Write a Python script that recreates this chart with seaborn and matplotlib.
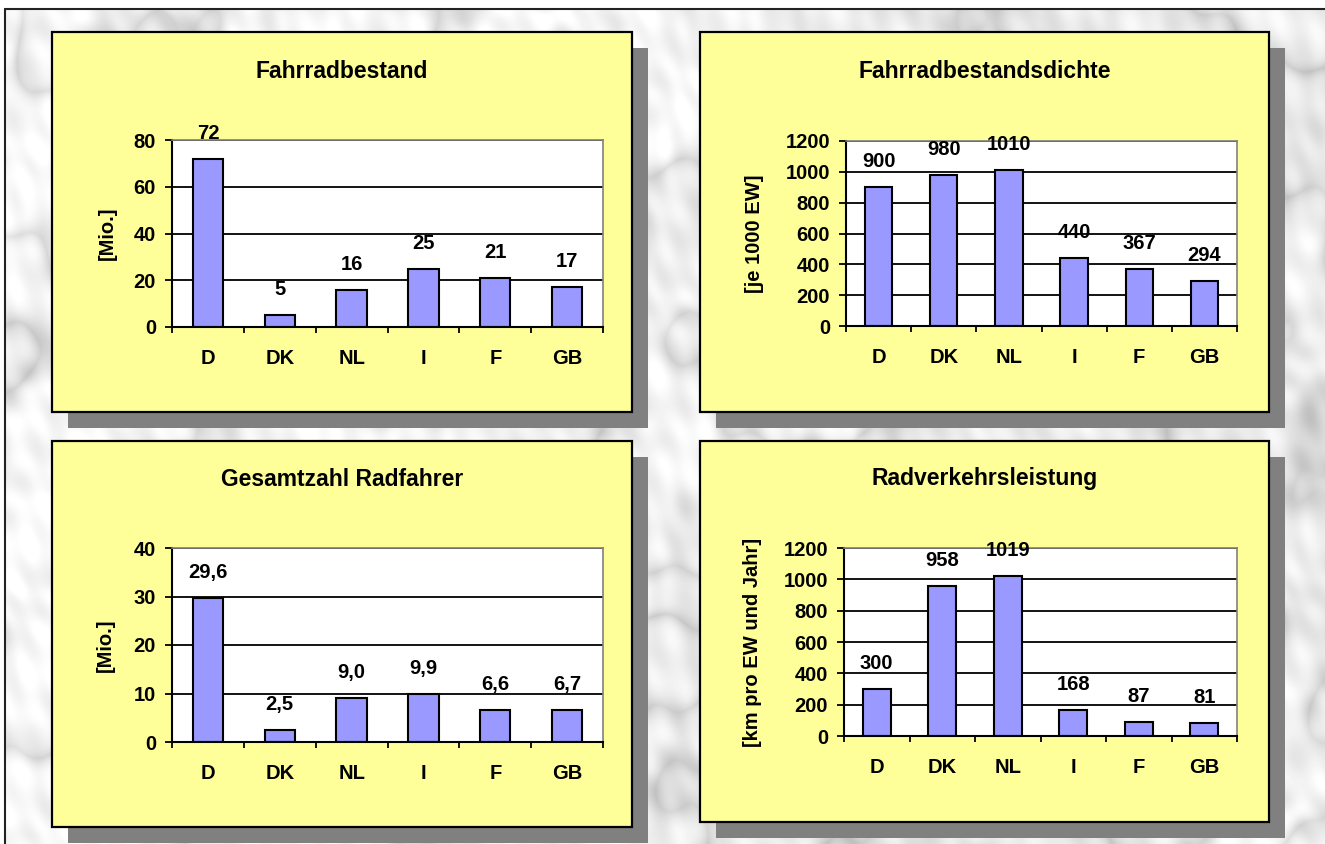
import numpy as np
import matplotlib
matplotlib.use("Agg")
import matplotlib.pyplot as plt
from matplotlib.patches import Rectangle
import seaborn as sns

# ---- data -------------------------------------------------------------
countries = ["D", "DK", "NL", "I", "F", "GB"]

bestand = [72, 5, 16, 25, 21, 17]              # Mio. Fahrräder
dichte = [900, 980, 1010, 440, 367, 294]       # je 1000 EW
radfahrer = [29.6, 2.5, 9.0, 9.9, 6.6, 6.7]    # Mio. Radfahrer
leistung = [300, 958, 1019, 168, 87, 81]       # km pro EW und Jahr

titles = ["Fahrradbestand", "Fahrradbestandsdichte",
          "Gesamtzahl Radfahrer", "Radverkehrsleistung"]
ylabels = ["[Mio.]", "[je 1000 EW]", "[Mio.]", "[km pro EW und Jahr]"]
yticks = [[0, 20, 40, 60, 80],
          [0, 200, 400, 600, 800, 1000, 1200],
          [0, 10, 20, 30, 40],
          [0, 200, 400, 600, 800, 1000, 1200]]
decimals = [0, 0, 1, 0]
series = [bestand, dichte, radfahrer, leistung]

# ---- layout (pixels, origin top-left) ----------------------------------
W, H = 1325, 844
panel_boxes = [(52, 32, 632, 412), (700, 32, 1269, 412),
               (52, 441, 632, 827), (700, 441, 1269, 822)]
plot_boxes = [(172, 140, 603, 327), (846, 141, 1237, 326),
              (172, 548, 603, 742), (844, 548, 1237, 736)]
title_y = [71, 71, 479, 479]
ylabel_x = [107, 755, 105, 753]
shadow = 16

PANEL = "#FFFF99"
BAR = "#9999FF"
SHADOW = "#808080"
FS = 14.5

sns.set_theme(style="white")
plt.rcParams["font.family"] = ["Liberation Sans", "DejaVu Sans"]
plt.rcParams["font.weight"] = "bold"
plt.rcParams["axes.labelweight"] = "bold"
for key in ("text.color", "axes.labelcolor", "xtick.color", "ytick.color",
            "xtick.labelcolor", "ytick.labelcolor"):
    plt.rcParams[key] = "black"


def marble(h, w):
    """Light grey cloudy marble texture built from layered sine waves."""
    y, x = np.mgrid[0:h, 0:w].astype(float)
    waves = [(0.004, 0.7, 0.3, 1.00), (0.009, 2.1, 1.7, 0.60),
             (0.017, 4.0, 2.9, 0.40), (0.031, 5.2, 0.8, 0.25),
             (0.058, 1.3, 4.1, 0.16), (0.110, 3.3, 5.5, 0.10)]
    turb = np.zeros_like(x)
    for f, ang, ph, amp in waves:
        turb += amp * np.sin(f * (x * np.cos(ang) + y * np.sin(ang)) + ph)
    m = np.sin((x * 0.8 - y * 0.6) * 0.014 + 2.6 * turb)
    veins = (1 - np.abs(m)) ** 2
    fine = np.zeros_like(x)
    for f, ang, ph in [(0.09, 0.4, 0.1), (0.15, 1.9, 2.2), (0.23, 2.8, 4.0)]:
        fine += np.sin(f * (x * np.cos(ang) + y * np.sin(ang)) + ph + 3 * turb)
    val = 0.95 - 0.13 * veins - 0.018 * fine + 0.03 * np.sin(turb * 1.7)
    return np.clip(val, 0, 1)


fig = plt.figure(figsize=(W / 100, H / 100), dpi=100, facecolor="white")

# background layer in pixel coordinates
bg = fig.add_axes([0, 0, 1, 1])
bg.imshow(marble(H - 9, W - 5), cmap="gray", vmin=0, vmax=1,
          extent=(5, W, H, 9), interpolation="bilinear")
bg.set_aspect("auto")
bg.set_xlim(0, W)
bg.set_ylim(H, 0)
bg.axis("off")
bg.plot([5, 5], [9, H], color="#222222", lw=1.5)
bg.plot([5, W], [9, 9], color="#222222", lw=1.5)

for k in range(4):
    x0, y0, x1, y1 = panel_boxes[k]
    bg.add_patch(Rectangle((x0 + shadow, y0 + shadow), x1 - x0, y1 - y0,
                           facecolor=SHADOW, edgecolor="none"))
    bg.add_patch(Rectangle((x0, y0), x1 - x0, y1 - y0,
                           facecolor=PANEL, edgecolor="black", lw=1.6))
    bg.text((x0 + x1) / 2, title_y[k], titles[k], ha="center", va="center",
            fontsize=16.5, fontweight="bold", color="black")

    px0, py0, px1, py1 = plot_boxes[k]
    ax = fig.add_axes([px0 / W, 1 - py1 / H, (px1 - px0) / W, (py1 - py0) / H])
    ax.set_zorder(2)
    ax.set_facecolor("white")

    vals = series[k]
    sns.barplot(x=countries, y=vals, color=BAR, saturation=1,
                edgecolor="black", linewidth=1.5, width=0.42, ax=ax)

    ax.set_xlim(-0.5, len(countries) - 0.5)
    ax.set_ylim(yticks[k][0], yticks[k][-1])
    ax.set_yticks(yticks[k])
    ax.set_yticklabels([str(t) for t in yticks[k]])
    ax.set_xticks(np.arange(-0.5, len(countries), 1.0))
    ax.set_xticklabels([])
    ax.set_xticks(range(len(countries)), countries, minor=True)
    ax.tick_params(axis="x", which="major", length=4.5, width=1.3,
                   direction="out", color="black", bottom=True)
    ax.tick_params(axis="x", which="minor", length=0, pad=16,
                   labelsize=FS, bottom=True, labelcolor="black")
    ax.tick_params(axis="y", length=5, width=1.3, direction="out",
                   color="black", pad=6.5, labelsize=FS, left=True,
                   labelcolor="black")
    for lab in ax.get_xticklabels(minor=True) + ax.get_yticklabels():
        lab.set_fontweight("bold")

    ax.set_xlabel("")
    ax.set_ylabel(ylabels[k], fontsize=FS, fontweight="bold", color="black")
    ax.yaxis.set_label_coords((ylabel_x[k] - px0) / (px1 - px0), 0.5)
    ax.yaxis.label.set_verticalalignment("center")

    ax.set_axisbelow(True)
    ax.yaxis.grid(True, color="black", lw=1.3)
    ax.xaxis.grid(False)
    for side in ("left", "bottom"):
        ax.spines[side].set_color("black")
        ax.spines[side].set_linewidth(1.5)
    for side in ("top", "right"):
        ax.spines[side].set_color(SHADOW)
        ax.spines[side].set_linewidth(1.2)
        ax.spines[side].set_visible(True)

    for i, v in enumerate(vals):
        txt = f"{v:.{decimals[k]}f}".replace(".", ",")
        ax.annotate(txt, (i, v), xytext=(0, 14.4), textcoords="offset points",
                    ha="center", va="baseline", fontsize=FS,
                    fontweight="bold", color="black", annotation_clip=False)

fig.savefig("out.png", dpi=100, facecolor="white")
